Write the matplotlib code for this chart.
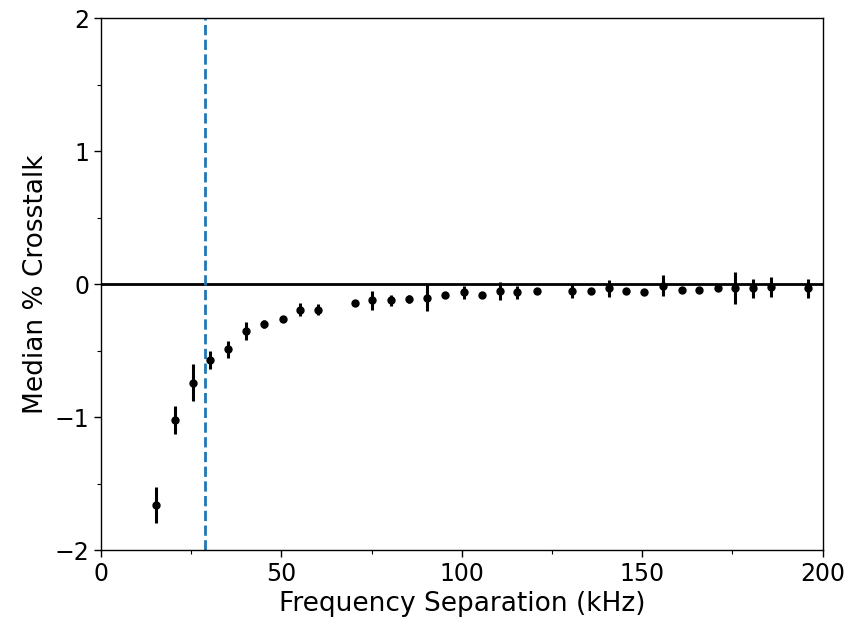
import matplotlib
matplotlib.use("Agg")
import matplotlib.pyplot as plt
from matplotlib.ticker import MultipleLocator

# Данные
freq_sep = [15.2, 20.4, 25.4, 30.2, 35.1, 40.1, 45.3, 50.3, 55.2, 60.2,
            70.4, 75.2, 80.5, 85.4, 90.4, 95.4, 100.6, 105.5, 110.5, 115.4,
            120.7, 130.5, 135.7, 140.7, 145.6, 150.6, 155.8, 160.9, 165.7,
            171.0, 175.8, 180.7, 185.6, 195.8]
crosstalk = [-1.66, -1.02, -0.74, -0.57, -0.49, -0.35, -0.30, -0.26, -0.19, -0.19,
             -0.14, -0.12, -0.12, -0.11, -0.10, -0.08, -0.06, -0.08, -0.05, -0.06,
             -0.05, -0.05, -0.05, -0.03, -0.05, -0.06, -0.01, -0.04, -0.04,
             -0.03, -0.03, -0.03, -0.02, -0.03]
crosstalk_err = [0.135, 0.105, 0.14, 0.065, 0.065, 0.07, 0.03, 0.02, 0.05, 0.04,
                 0.02, 0.07, 0.04, 0.03, 0.10, 0.02, 0.05, 0.02, 0.07, 0.05,
                 0.02, 0.05, 0.02, 0.065, 0.02, 0.02, 0.08, 0.02, 0.02,
                 0.02, 0.12, 0.07, 0.075, 0.07]
cutoff = 28.8

fig = plt.figure(figsize=(8.51, 6.23), dpi=100)
ax = fig.add_axes([0.1187, 0.1164, 0.848, 0.8546])

ax.errorbar(freq_sep, crosstalk, yerr=crosstalk_err, fmt='o', color='black',
            markersize=5, elinewidth=2.2, capsize=0)
ax.axhline(0, color='black', linewidth=2)
ax.axvline(cutoff, color='#1f77b4', linestyle='--', linewidth=2)

ax.set_xlim(0, 200)
ax.set_ylim(-2, 2)
ax.xaxis.set_major_locator(MultipleLocator(50))
ax.xaxis.set_minor_locator(MultipleLocator(25))
ax.yaxis.set_major_locator(MultipleLocator(1))
ax.yaxis.set_minor_locator(MultipleLocator(0.5))
ax.tick_params(which='major', labelsize=17, length=4.7, width=1)
ax.tick_params(which='minor', length=2.7, width=0.8)
for s in ax.spines.values():
    s.set_linewidth(1)

ax.set_xlabel('Frequency Separation (kHz)', fontsize=19)
ax.set_ylabel('Median % Crosstalk', fontsize=19)

fig.savefig('out.png', dpi=100)
